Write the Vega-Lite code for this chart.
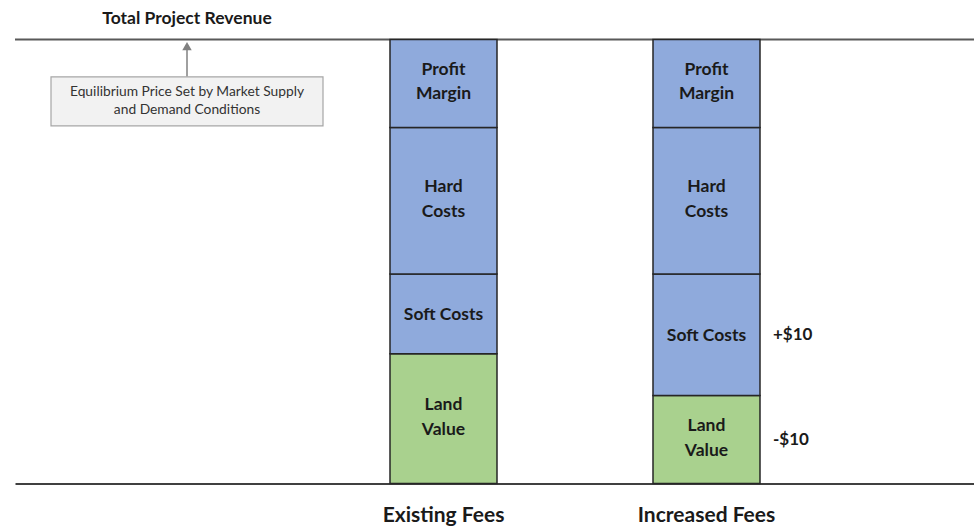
{
  "$schema": "https://vega.github.io/schema/vega-lite/v6.json",
  "width": 959,
  "height": 528,
  "autosize": {"type": "none"},
  "padding": {"left": 15, "top": 0, "right": 0, "bottom": 0},
  "background": "white",
  "config": {"view": {"stroke": null}, "font": "Lato", "text": {"font": "Lato"}},
  "datasets": {
    "costs": [
      {"scenario": "Existing Fees", "component": "Land Value", "twoLine": "Land\nValue", "oneLine": "", "order": 1, "value": 31, "change": ""},
      {"scenario": "Existing Fees", "component": "Soft Costs", "twoLine": "", "oneLine": "Soft Costs", "order": 2, "value": 19, "change": ""},
      {"scenario": "Existing Fees", "component": "Hard Costs", "twoLine": "Hard\nCosts", "oneLine": "", "order": 3, "value": 35, "change": ""},
      {"scenario": "Existing Fees", "component": "Profit Margin", "twoLine": "Profit\nMargin", "oneLine": "", "order": 4, "value": 21, "change": ""},
      {"scenario": "Increased Fees", "component": "Land Value", "twoLine": "Land\nValue", "oneLine": "", "order": 1, "value": 21, "change": "-$10"},
      {"scenario": "Increased Fees", "component": "Soft Costs", "twoLine": "", "oneLine": "Soft Costs", "order": 2, "value": 29, "change": "+$10"},
      {"scenario": "Increased Fees", "component": "Hard Costs", "twoLine": "Hard\nCosts", "oneLine": "", "order": 3, "value": 35, "change": ""},
      {"scenario": "Increased Fees", "component": "Profit Margin", "twoLine": "Profit\nMargin", "oneLine": "", "order": 4, "value": 21, "change": ""}
    ],
    "revenue": [
      {"scenario": "note", "value": 106, "title": "Total Project Revenue", "note": "Equilibrium Price Set by Market Supply\nand Demand Conditions"}
    ]
  },
  "layer": [
    {
      "data": {"name": "revenue"},
      "mark": {"type": "rule", "color": "#595959", "strokeWidth": 2},
      "encoding": {
        "y": {"field": "value", "type": "quantitative", "scale": {"domain": [-10.624, 115.43], "nice": false, "zero": false}, "axis": null}
      }
    },
    {
      "encoding": {
        "x": {
          "field": "scenario",
          "type": "nominal",
          "sort": null,
          "scale": {"domain": ["note", "Existing Fees", "Increased Fees"], "paddingInner": 0.59316, "paddingOuter": 0.619775, "align": 0.34356},
          "axis": {
            "orient": "bottom", "offset": -44.5, "title": null, "grid": false, "ticks": false,
            "domainColor": "#404040", "domainWidth": 2,
            "labelFont": "Lato", "labelFontSize": 21, "labelFontWeight": "bold", "labelColor": "#1a1a1a",
            "labelPadding": 21, "labelAngle": 0,
            "labelExpr": "datum.value == 'note' ? '' : datum.label"
          }
        }
      },
      "layer": [
        {
          "data": {"name": "costs"},
          "mark": {"type": "bar", "stroke": "#262626", "strokeWidth": 1.5},
          "encoding": {
            "y": {"field": "value", "type": "quantitative", "stack": "zero", "scale": {"domain": [-10.624, 115.43], "nice": false, "zero": false}, "axis": null},
            "color": {"field": "component", "type": "nominal", "scale": {"domain": ["Land Value", "Soft Costs", "Hard Costs", "Profit Margin"], "range": ["#A9D18E", "#8FAADC", "#8FAADC", "#8FAADC"]}, "legend": null},
            "order": {"field": "order", "type": "quantitative"}
          }
        },
        {
          "data": {"name": "costs"},
          "mark": {"type": "text", "font": "Lato", "fontSize": 17.5, "fontWeight": "bold", "color": "#1a1a1a", "lineBreak": "\n", "lineHeight": 24.5, "baseline": "middle", "align": "center", "dy": -13.5},
          "encoding": {
            "y": {"field": "value", "type": "quantitative", "stack": "zero", "bandPosition": 0.5, "scale": {"domain": [-10.624, 115.43], "nice": false, "zero": false}, "axis": null},
            "detail": {"field": "component", "type": "nominal"},
            "order": {"field": "order", "type": "quantitative"},
            "text": {"field": "twoLine", "type": "nominal"}
          }
        },
        {
          "data": {"name": "costs"},
          "mark": {"type": "text", "font": "Lato", "fontSize": 17.5, "fontWeight": "bold", "color": "#1a1a1a", "baseline": "middle", "align": "center", "dy": 1},
          "encoding": {
            "y": {"field": "value", "type": "quantitative", "stack": "zero", "bandPosition": 0.5, "scale": {"domain": [-10.624, 115.43], "nice": false, "zero": false}, "axis": null},
            "detail": {"field": "component", "type": "nominal"},
            "order": {"field": "order", "type": "quantitative"},
            "text": {"field": "oneLine", "type": "nominal"}
          }
        },
        {
          "data": {"name": "costs"},
          "mark": {"type": "text", "font": "Lato", "fontSize": 17, "fontWeight": "bold", "color": "#1a1a1a", "baseline": "middle", "align": "left", "dx": 66.5, "dy": 0},
          "encoding": {
            "y": {"field": "value", "type": "quantitative", "stack": "zero", "bandPosition": 0.5, "scale": {"domain": [-10.624, 115.43], "nice": false, "zero": false}, "axis": null},
            "detail": {"field": "component", "type": "nominal"},
            "order": {"field": "order", "type": "quantitative"},
            "text": {"field": "change", "type": "nominal"}
          }
        },
        {
          "data": {"name": "revenue"},
          "mark": {"type": "text", "font": "Lato", "fontSize": 17.5, "fontWeight": "bold", "color": "#1a1a1a", "baseline": "middle", "align": "center", "dx": 6.5, "dy": -20},
          "encoding": {
            "y": {"field": "value", "type": "quantitative", "scale": {"domain": [-10.624, 115.43], "nice": false, "zero": false}, "axis": null},
            "text": {"field": "title", "type": "nominal"}
          }
        },
        {
          "data": {"name": "revenue"},
          "mark": {"type": "rule", "color": "#808080", "strokeWidth": 1.5, "xOffset": 6.5},
          "encoding": {
            "y": {"datum": 97.1, "type": "quantitative", "scale": {"domain": [-10.624, 115.43], "nice": false, "zero": false}, "axis": null},
            "y2": {"datum": 103.5}
          }
        },
        {
          "data": {"name": "revenue"},
          "mark": {"type": "point", "shape": "triangle-up", "filled": true, "color": "#808080", "size": 90, "opacity": 1, "xOffset": 6.5},
          "encoding": {
            "y": {"datum": 104.4, "type": "quantitative", "scale": {"domain": [-10.624, 115.43], "nice": false, "zero": false}, "axis": null}
          }
        },
        {
          "data": {"name": "revenue"},
          "mark": {"type": "bar", "width": 272, "fill": "#F2F2F2", "stroke": "#A6A6A6", "strokeWidth": 1.2, "xOffset": 6.5},
          "encoding": {
            "y": {"datum": 85.4, "type": "quantitative", "scale": {"domain": [-10.624, 115.43], "nice": false, "zero": false}, "axis": null},
            "y2": {"datum": 97.1}
          }
        },
        {
          "data": {"name": "revenue"},
          "mark": {"type": "text", "font": "Lato", "fontSize": 13.8, "color": "#333333", "lineBreak": "\n", "lineHeight": 18, "baseline": "middle", "align": "center", "dx": 6.5, "dy": -9},
          "encoding": {
            "y": {"datum": 91.3, "type": "quantitative", "scale": {"domain": [-10.624, 115.43], "nice": false, "zero": false}, "axis": null},
            "text": {"field": "note", "type": "nominal"}
          }
        }
      ]
    }
  ]
}
